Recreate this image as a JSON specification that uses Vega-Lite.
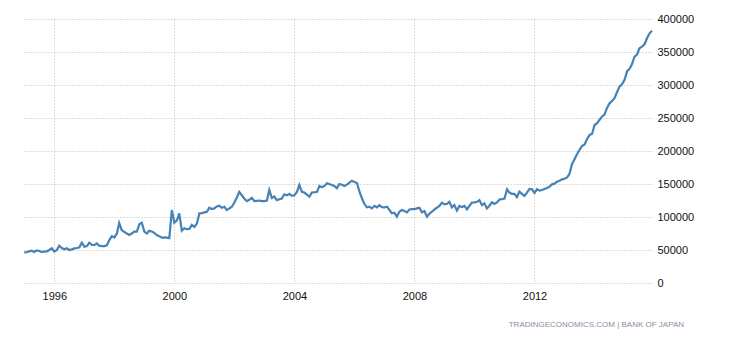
{
"$schema": "https://vega.github.io/schema/vega-lite/v6.json",
"width": 630,
"height": 264,
"autosize": "none",
"padding": {"left": 22, "top": 19, "right": 78, "bottom": 57},
"config": {"view": {"stroke": null}, "font": "Liberation Sans"},
"title": {"text": "TRADINGECONOMICS.COM | BANK OF JAPAN", "orient": "bottom", "anchor": "end", "frame": "group", "fontSize": 8, "fontWeight": "normal", "color": "#8a8ea2", "offset": 20, "dx": 32, "font": "Liberation Sans"},
"data": {"values": [
{"date":"1995/01/01","value":46000},{"date":"1995/02/01","value":47000},{"date":"1995/03/01","value":48000},{"date":"1995/04/01","value":49000},{"date":"1995/05/01","value":47000},{"date":"1995/06/01","value":49500},{"date":"1995/07/01","value":48500},{"date":"1995/08/01","value":47000},{"date":"1995/09/01","value":47500},{"date":"1995/10/01","value":48000},{"date":"1995/11/01","value":50000},{"date":"1995/12/01","value":52500},
{"date":"1996/01/01","value":47500},{"date":"1996/02/01","value":50000},{"date":"1996/03/01","value":56500},{"date":"1996/04/01","value":53000},{"date":"1996/05/01","value":51000},{"date":"1996/06/01","value":52500},{"date":"1996/07/01","value":50000},{"date":"1996/08/01","value":51000},{"date":"1996/09/01","value":52500},{"date":"1996/10/01","value":53000},{"date":"1996/11/01","value":54000},{"date":"1996/12/01","value":61000},
{"date":"1997/01/01","value":55000},{"date":"1997/02/01","value":56000},{"date":"1997/03/01","value":61000},{"date":"1997/04/01","value":58000},{"date":"1997/05/01","value":57500},{"date":"1997/06/01","value":60000},{"date":"1997/07/01","value":56500},{"date":"1997/08/01","value":56000},{"date":"1997/09/01","value":56000},{"date":"1997/10/01","value":57000},{"date":"1997/11/01","value":65000},{"date":"1997/12/01","value":71000},
{"date":"1998/01/01","value":69000},{"date":"1998/02/01","value":75000},{"date":"1998/03/01","value":91000},{"date":"1998/04/01","value":80000},{"date":"1998/05/01","value":77500},{"date":"1998/06/01","value":75000},{"date":"1998/07/01","value":72700},{"date":"1998/08/01","value":75000},{"date":"1998/09/01","value":77700},{"date":"1998/10/01","value":77700},{"date":"1998/11/01","value":89000},{"date":"1998/12/01","value":91400},
{"date":"1999/01/01","value":78000},{"date":"1999/02/01","value":75000},{"date":"1999/03/01","value":79000},{"date":"1999/04/01","value":78000},{"date":"1999/05/01","value":76000},{"date":"1999/06/01","value":72700},{"date":"1999/07/01","value":71000},{"date":"1999/08/01","value":68700},{"date":"1999/09/01","value":69000},{"date":"1999/10/01","value":68700},{"date":"1999/11/01","value":68000},{"date":"1999/12/01","value":110600},
{"date":"2000/01/01","value":91400},{"date":"2000/02/01","value":95000},{"date":"2000/03/01","value":105600},{"date":"2000/04/01","value":79200},{"date":"2000/05/01","value":83000},{"date":"2000/06/01","value":81500},{"date":"2000/07/01","value":82000},{"date":"2000/08/01","value":88000},{"date":"2000/09/01","value":85000},{"date":"2000/10/01","value":90000},{"date":"2000/11/01","value":105600},{"date":"2000/12/01","value":106000},
{"date":"2001/01/01","value":107000},{"date":"2001/02/01","value":108000},{"date":"2001/03/01","value":114000},{"date":"2001/04/01","value":112000},{"date":"2001/05/01","value":113000},{"date":"2001/06/01","value":116000},{"date":"2001/07/01","value":117000},{"date":"2001/08/01","value":114000},{"date":"2001/09/01","value":115500},{"date":"2001/10/01","value":110500},{"date":"2001/11/01","value":113000},{"date":"2001/12/01","value":115500},
{"date":"2002/01/01","value":122000},{"date":"2002/02/01","value":130000},{"date":"2002/03/01","value":138000},{"date":"2002/04/01","value":133000},{"date":"2002/05/01","value":128000},{"date":"2002/06/01","value":124000},{"date":"2002/07/01","value":126000},{"date":"2002/08/01","value":129000},{"date":"2002/09/01","value":124000},{"date":"2002/10/01","value":124500},{"date":"2002/11/01","value":125000},{"date":"2002/12/01","value":124000},
{"date":"2003/01/01","value":124000},{"date":"2003/02/01","value":125000},{"date":"2003/03/01","value":141000},{"date":"2003/04/01","value":129000},{"date":"2003/05/01","value":131000},{"date":"2003/06/01","value":125500},{"date":"2003/07/01","value":127000},{"date":"2003/08/01","value":128000},{"date":"2003/09/01","value":134400},{"date":"2003/10/01","value":133000},{"date":"2003/11/01","value":135000},{"date":"2003/12/01","value":132000},
{"date":"2004/01/01","value":133000},{"date":"2004/02/01","value":138000},{"date":"2004/03/01","value":148500},{"date":"2004/04/01","value":138000},{"date":"2004/05/01","value":137000},{"date":"2004/06/01","value":134000},{"date":"2004/07/01","value":131000},{"date":"2004/08/01","value":137000},{"date":"2004/09/01","value":137500},{"date":"2004/10/01","value":138000},{"date":"2004/11/01","value":147000},{"date":"2004/12/01","value":145000},
{"date":"2005/01/01","value":147000},{"date":"2005/02/01","value":151000},{"date":"2005/03/01","value":150000},{"date":"2005/04/01","value":148500},{"date":"2005/05/01","value":147000},{"date":"2005/06/01","value":143500},{"date":"2005/07/01","value":150000},{"date":"2005/08/01","value":149000},{"date":"2005/09/01","value":147000},{"date":"2005/10/01","value":149000},{"date":"2005/11/01","value":152000},{"date":"2005/12/01","value":155000},
{"date":"2006/01/01","value":153000},{"date":"2006/02/01","value":151500},{"date":"2006/03/01","value":139000},{"date":"2006/04/01","value":128700},{"date":"2006/05/01","value":120000},{"date":"2006/06/01","value":114700},{"date":"2006/07/01","value":115700},{"date":"2006/08/01","value":113000},{"date":"2006/09/01","value":117000},{"date":"2006/10/01","value":114700},{"date":"2006/11/01","value":118000},{"date":"2006/12/01","value":115000},
{"date":"2007/01/01","value":114700},{"date":"2007/02/01","value":115700},{"date":"2007/03/01","value":111000},{"date":"2007/04/01","value":105600},{"date":"2007/05/01","value":106500},{"date":"2007/06/01","value":100500},{"date":"2007/07/01","value":108000},{"date":"2007/08/01","value":110600},{"date":"2007/09/01","value":109000},{"date":"2007/10/01","value":107000},{"date":"2007/11/01","value":111500},{"date":"2007/12/01","value":112000},
{"date":"2008/01/01","value":112000},{"date":"2008/02/01","value":113000},{"date":"2008/03/01","value":114000},{"date":"2008/04/01","value":107000},{"date":"2008/05/01","value":109000},{"date":"2008/06/01","value":100500},{"date":"2008/07/01","value":105000},{"date":"2008/08/01","value":108000},{"date":"2008/09/01","value":111500},{"date":"2008/10/01","value":114000},{"date":"2008/11/01","value":117000},{"date":"2008/12/01","value":121700},
{"date":"2009/01/01","value":119200},{"date":"2009/02/01","value":120000},{"date":"2009/03/01","value":123000},{"date":"2009/04/01","value":114700},{"date":"2009/05/01","value":118200},{"date":"2009/06/01","value":109800},{"date":"2009/07/01","value":116700},{"date":"2009/08/01","value":115000},{"date":"2009/09/01","value":116700},{"date":"2009/10/01","value":111500},{"date":"2009/11/01","value":117000},{"date":"2009/12/01","value":121700},
{"date":"2010/01/01","value":122000},{"date":"2010/02/01","value":123000},{"date":"2010/03/01","value":125600},{"date":"2010/04/01","value":118000},{"date":"2010/05/01","value":120700},{"date":"2010/06/01","value":113000},{"date":"2010/07/01","value":117000},{"date":"2010/08/01","value":122200},{"date":"2010/09/01","value":119700},{"date":"2010/10/01","value":122000},{"date":"2010/11/01","value":126600},{"date":"2010/12/01","value":127000},
{"date":"2011/01/01","value":128000},{"date":"2011/02/01","value":142000},{"date":"2011/03/01","value":137000},{"date":"2011/04/01","value":135000},{"date":"2011/05/01","value":135000},{"date":"2011/06/01","value":130000},{"date":"2011/07/01","value":138500},{"date":"2011/08/01","value":135000},{"date":"2011/09/01","value":132000},{"date":"2011/10/01","value":137000},{"date":"2011/11/01","value":142500},{"date":"2011/12/01","value":142000},
{"date":"2012/01/01","value":136700},{"date":"2012/02/01","value":142000},{"date":"2012/03/01","value":140000},{"date":"2012/04/01","value":141000},{"date":"2012/05/01","value":142500},{"date":"2012/06/01","value":144000},{"date":"2012/07/01","value":146000},{"date":"2012/08/01","value":149500},{"date":"2012/09/01","value":150500},{"date":"2012/10/01","value":153500},{"date":"2012/11/01","value":155000},{"date":"2012/12/01","value":157000},
{"date":"2013/01/01","value":158000},{"date":"2013/02/01","value":160000},{"date":"2013/03/01","value":165000},{"date":"2013/04/01","value":180000},{"date":"2013/05/01","value":187300},{"date":"2013/06/01","value":195000},{"date":"2013/07/01","value":201500},{"date":"2013/08/01","value":207500},{"date":"2013/09/01","value":210000},{"date":"2013/10/01","value":217700},{"date":"2013/11/01","value":224300},{"date":"2013/12/01","value":225800},
{"date":"2014/01/01","value":239400},{"date":"2014/02/01","value":242000},{"date":"2014/03/01","value":247000},{"date":"2014/04/01","value":252000},{"date":"2014/05/01","value":255000},{"date":"2014/06/01","value":265000},{"date":"2014/07/01","value":272000},{"date":"2014/08/01","value":275700},{"date":"2014/09/01","value":280000},{"date":"2014/10/01","value":289000},{"date":"2014/11/01","value":297500},{"date":"2014/12/01","value":301000},
{"date":"2015/01/01","value":308000},{"date":"2015/02/01","value":321000},{"date":"2015/03/01","value":324000},{"date":"2015/04/01","value":331300},{"date":"2015/05/01","value":342700},{"date":"2015/06/01","value":346000},{"date":"2015/07/01","value":355600},{"date":"2015/08/01","value":358000},{"date":"2015/09/01","value":361700},{"date":"2015/10/01","value":370800},{"date":"2015/11/01","value":378300},{"date":"2015/12/01","value":382300}
]},
"mark": {"type": "line", "color": "#4682b4", "strokeWidth": 2.2},
"encoding": {
  "x": {"field": "date", "type": "temporal",
        "scale": {"domain": [{"year": 1994, "month": 12, "date": 4}, {"year": 2015, "month": 12, "date": 1}]},
        "axis": {"title": null, "values": [{"year": 1996}, {"year": 2000}, {"year": 2004}, {"year": 2008}, {"year": 2012}], "format": "%Y", "ticks": false, "domain": false, "labelPadding": 7, "labelFontSize": 11, "labelColor": "#111111", "gridColor": "#bdbdbd", "gridDash": [1, 2], "gridWidth": 1}},
  "y": {"field": "value", "type": "quantitative",
        "scale": {"domain": [0, 400000]},
        "axis": {"orient": "right", "title": null, "values": [0, 50000, 100000, 150000, 200000, 250000, 300000, 350000, 400000], "format": "d", "ticks": false, "domain": false, "labelPadding": 5, "labelFontSize": 11, "labelColor": "#111111", "gridColor": "#bdbdbd", "gridDash": [1, 2], "gridWidth": 1}}
}
}
